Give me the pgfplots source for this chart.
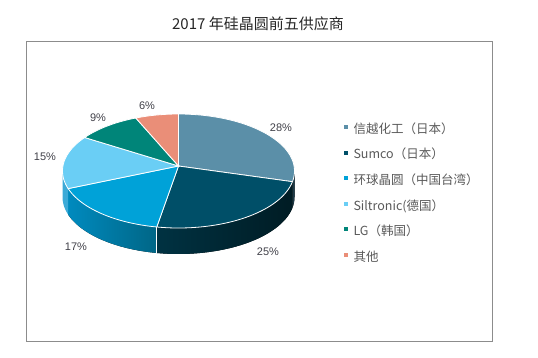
\documentclass[border=0pt]{standalone}
\usepackage{pgfplots}
\pgfplotsset{compat=1.18}
\usepgfplotslibrary{fillbetween}
\usepackage{fontspec}
\setmainfont{Noto Sans CJK SC}
\newfontfamily\arial{Liberation Sans}
\definecolor{cA}{HTML}{5B8FA8}
\definecolor{cB}{HTML}{004F68}
\definecolor{cC}{HTML}{00A2D8}
\definecolor{cD}{HTML}{6ACEF5}
\definecolor{cE}{HTML}{008579}
\definecolor{cF}{HTML}{EA8E78}
\definecolor{sAl}{HTML}{1E3E4C}
\definecolor{sAr}{HTML}{16303C}
\definecolor{sBl}{HTML}{003242}
\definecolor{sBr}{HTML}{001C24}
\definecolor{sCl}{HTML}{008ABE}
\definecolor{sCr}{HTML}{006686}
\definecolor{sD}{HTML}{3CAAD7}
\definecolor{lbl}{HTML}{404048}
\definecolor{legtxt}{HTML}{595959}
\begin{document}
\begin{tikzpicture}
% shares in percent
\def\vA{28}\def\vB{25}\def\vC{17}\def\vD{15}\def\vE{9}\def\vF{6}
\pgfmathsetmacro\aA{90}
\pgfmathsetmacro\aB{\aA-3.6*\vA}
\pgfmathsetmacro\aC{\aB-3.6*\vB}
\pgfmathsetmacro\aD{\aC-3.6*\vC}
\pgfmathsetmacro\aE{\aD-3.6*\vD}
\pgfmathsetmacro\aF{\aE-3.6*\vE}
\pgfmathsetmacro\aG{\aF-3.6*\vF}
\def\cx{178.5}\def\cy{171}\def\rx{116}\def\ry{57}\def\dd{26}
\def\px{178.5}\def\py{166}
\begin{axis}[
  scale only axis, width=538pt, height=357pt,
  xmin=0, xmax=538, ymin=0, ymax=357, y dir=reverse,
  axis lines=none, clip=false,
  legend style={at={(axis cs:339.5,122)}, anchor=north west, draw=none, fill=none,
    font=\fontsize{12.5}{14}\selectfont, text=legtxt, row sep=13.9pt,
    nodes={inner sep=0pt, text height=9pt, text depth=2.5pt},
    /tikz/every odd column/.append style={column sep=5pt}},
  legend cell align=left,
  legend image code/.code={\fill[#1] (0pt,0.5pt) rectangle (5pt,5.5pt);},
]
\path (axis cs:0,0) rectangle (axis cs:538,357);
% frame and title
\draw[color=black!45, line width=0.8pt] (axis cs:26,41) rectangle (axis cs:492,341);
\node[font=\fontsize{15}{18}\selectfont, text=black!85] at (axis cs:258,24) {2017 年硅晶圆前五供应商};
% side faces
\addplot[draw=none, name path=tA, forget plot, domain=\aB:0, samples=20] ({\cx+\rx*cos(x)}, {\cy-\ry*sin(x)});
\addplot[draw=none, name path=bA, forget plot, domain=\aB:0, samples=20] ({\cx+\rx*cos(x)}, {\cy-\ry*sin(x)+\dd});
\addplot[forget plot, left color=sAl, right color=sAr] fill between[of=tA and bA];
\addplot[draw=none, name path=tB, forget plot, domain=\aC:\aB, samples=80] ({\cx+\rx*cos(x)}, {\cy-\ry*sin(x)});
\addplot[draw=none, name path=bB, forget plot, domain=\aC:\aB, samples=80] ({\cx+\rx*cos(x)}, {\cy-\ry*sin(x)+\dd});
\addplot[forget plot, left color=sBl, right color=sBr] fill between[of=tB and bB];
\addplot[draw=none, name path=tC, forget plot, domain=\aD:\aC, samples=60] ({\cx+\rx*cos(x)}, {\cy-\ry*sin(x)});
\addplot[draw=none, name path=bC, forget plot, domain=\aD:\aC, samples=60] ({\cx+\rx*cos(x)}, {\cy-\ry*sin(x)+\dd});
\addplot[forget plot, left color=sCl, right color=sCr] fill between[of=tC and bC];
\addplot[draw=none, name path=tD, forget plot, domain=-180:\aD, samples=20] ({\cx+\rx*cos(x)}, {\cy-\ry*sin(x)});
\addplot[draw=none, name path=bD, forget plot, domain=-180:\aD, samples=20] ({\cx+\rx*cos(x)}, {\cy-\ry*sin(x)+\dd});
\addplot[forget plot, fill=sD] fill between[of=tD and bD];
\addplot[white, line width=0.8pt, forget plot, domain=0:1, samples=2] ({\cx+\rx*cos(\aC)}, {\cy-\ry*sin(\aC)+\dd*x});
% top faces
\addplot[fill=cA, draw=white, line width=0.8pt, domain=\aB:\aA, samples=60] ({\cx+\rx*cos(x)}, {\cy-\ry*sin(x)}) -- (axis cs:\px,\py) -- cycle;
\addlegendentry{信越化工（日本）}
\addplot[fill=cB, draw=white, line width=0.8pt, domain=\aC:\aB, samples=60] ({\cx+\rx*cos(x)}, {\cy-\ry*sin(x)}) -- (axis cs:\px,\py) -- cycle;
\addlegendentry{Sumco（日本）}
\addplot[fill=cC, draw=white, line width=0.8pt, domain=\aD:\aC, samples=60] ({\cx+\rx*cos(x)}, {\cy-\ry*sin(x)}) -- (axis cs:\px,\py) -- cycle;
\addlegendentry{环球晶圆（中国台湾）}
\addplot[fill=cD, draw=white, line width=0.8pt, domain=\aE:\aD, samples=60] ({\cx+\rx*cos(x)}, {\cy-\ry*sin(x)}) -- (axis cs:\px,\py) -- cycle;
\addlegendentry{Siltronic(德国）}
\addplot[fill=cE, draw=white, line width=0.8pt, domain=\aF:\aE, samples=40] ({\cx+\rx*cos(x)}, {\cy-\ry*sin(x)}) -- (axis cs:\px,\py) -- cycle;
\addlegendentry{LG（韩国）}
\addplot[fill=cF, draw=white, line width=0.8pt, domain=\aG:\aF, samples=30] ({\cx+\rx*cos(x)}, {\cy-\ry*sin(x)}) -- (axis cs:\px,\py) -- cycle;
\addlegendentry{其他}
% data labels
\begin{scope}[every node/.style={font=\arial\fontsize{11}{13}\selectfont, text=lbl}]
\node at (axis cs:281,128) {28\%};
\node at (axis cs:268,252) {25\%};
\node at (axis cs:76,247) {17\%};
\node at (axis cs:45,157) {15\%};
\node at (axis cs:98,118) {9\%};
\node at (axis cs:147,106) {6\%};
\end{scope}
\end{axis}
\end{tikzpicture}
\end{document}
